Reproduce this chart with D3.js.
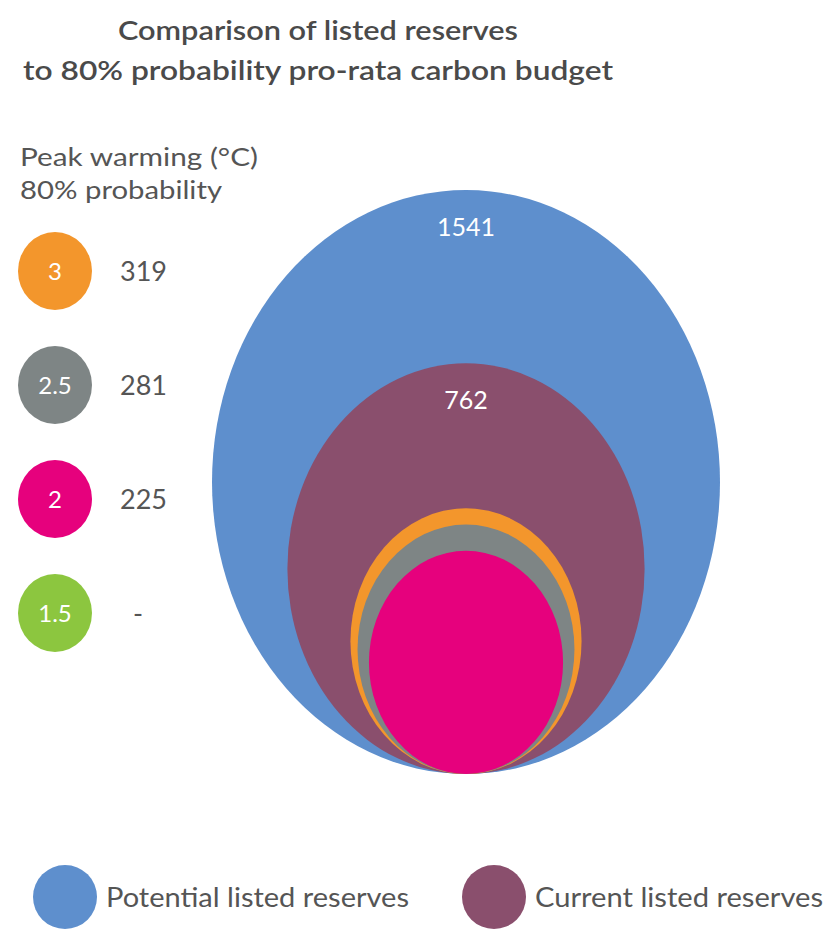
<!DOCTYPE html>
<html>
<head>
<meta charset="utf-8">
<script src="https://cdn.jsdelivr.net/npm/d3@7"></script>
<style>
  html, body { margin: 0; padding: 0; background: #fff; }
  svg { display: block; }
  text { font-family: Lato, "Open Sans", sans-serif; }
</style>
</head>
<body>
<svg id="chart" width="837" height="930"></svg>
<script>
// ---- data ----
const titleLines = ["Comparison of listed reserves", "to 80% probability pro-rata carbon budget"];
const legendTitle = ["Peak warming (\u00B0C)", "80% probability"];
const reserveLabels = ["Potential listed reserves", "Current listed reserves"];
const reserveValues = [1541, 762];
const warmingLabels = ["3", "2.5", "2", "1.5"];
const budgetValues = [319, 281, 225, null];

const reserveColors = ["#5E8FCD", "#8A4F6D"];
const warmingColors = ["#F3962C", "#7E8585", "#E6017D", "#8CC63F"];

const svg = d3.select("#chart");

// title
svg.selectAll("text.title").data(titleLines).join("text")
  .attr("class", "title")
  .attr("x", 318).attr("y", (d, i) => 40 + i * 40)
  .attr("text-anchor", "middle")
  .attr("font-size", 27).attr("font-weight", 600)
  .attr("fill", "#4a4a4a")
  .attr("textLength", (d, i) => i === 0 ? 400 : 590)
  .attr("lengthAdjust", "spacingAndGlyphs")
  .text(d => d);

// left legend title
svg.selectAll("text.ltitle").data(legendTitle).join("text")
  .attr("class", "ltitle")
  .attr("x", 20).attr("y", (d, i) => 166 + i * 33)
  .attr("font-size", 25).attr("fill", "#555")
  .attr("textLength", (d, i) => i === 0 ? 238 : 202)
  .attr("lengthAdjust", "spacingAndGlyphs")
  .text(d => d);

// nested ellipses (area-proportional)
const cx = 466, bottom = 774;
const rx = d3.scaleSqrt().domain([0, 1541]).range([0, 254]);
const ry = d3.scaleSqrt().domain([0, 1541]).range([0, 292]);

const nested = reserveValues.map((v, i) => ({ v, color: reserveColors[i], label: String(v) }))
  .concat(budgetValues.map((v, i) => ({ v, color: warmingColors[i], label: null })).filter(d => d.v != null))
  .sort((a, b) => b.v - a.v);

const g = svg.append("g");
g.selectAll("ellipse").data(nested).join("ellipse")
  .attr("cx", cx)
  .attr("cy", d => bottom - ry(d.v))
  .attr("rx", d => rx(d.v))
  .attr("ry", d => ry(d.v))
  .attr("fill", d => d.color);

g.selectAll("text.val").data(nested.filter(d => d.label)).join("text")
  .attr("class", "val")
  .attr("x", cx)
  .attr("y", d => bottom - 2 * ry(d.v) + 46)
  .attr("text-anchor", "middle")
  .attr("font-size", 25).attr("fill", "#fff")
  .text(d => d.label);

// left legend: warming levels
const ly = d3.scalePoint().domain(warmingLabels).range([271, 613]);
const lg = svg.selectAll("g.wl").data(warmingLabels).join("g")
  .attr("class", "wl")
  .attr("transform", d => `translate(0,${ly(d)})`);
lg.append("ellipse")
  .attr("cx", 55).attr("cy", 0).attr("rx", 37).attr("ry", 39)
  .attr("fill", (d, i) => warmingColors[i]);
lg.append("text")
  .attr("x", 55).attr("y", 9)
  .attr("text-anchor", "middle")
  .attr("font-size", 24).attr("fill", "#fff")
  .text(d => d);
lg.append("text")
  .attr("x", (d, i) => budgetValues[i] == null ? 133 : 120)
  .attr("y", 10)
  .attr("font-size", 27).attr("fill", "#555")
  .text((d, i) => budgetValues[i] == null ? "-" : budgetValues[i]);

// bottom legend
const bx = [65, 494];
const bl = svg.selectAll("g.bl").data(reserveLabels).join("g")
  .attr("class", "bl")
  .attr("transform", (d, i) => `translate(${bx[i]},897)`);
bl.append("ellipse")
  .attr("rx", 32).attr("ry", 32)
  .attr("fill", (d, i) => reserveColors[i]);
bl.append("text")
  .attr("x", 41).attr("y", 10)
  .attr("font-size", 27).attr("fill", "#555")
  .attr("textLength", (d, i) => i === 0 ? 303 : 288)
  .attr("lengthAdjust", "spacingAndGlyphs")
  .text(d => d);
</script>
</body>
</html>
